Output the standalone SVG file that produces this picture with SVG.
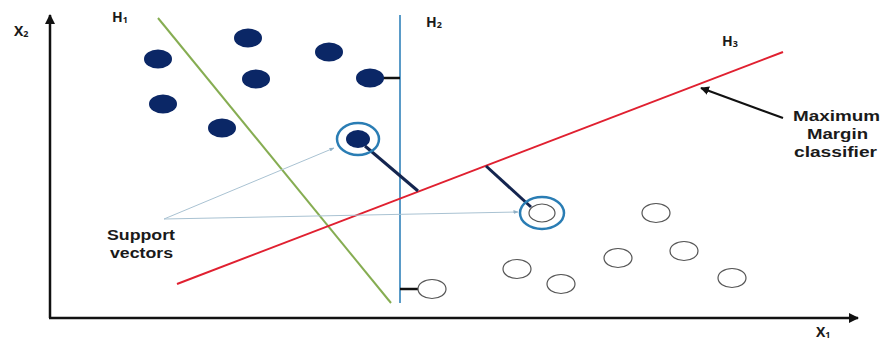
<svg xmlns="http://www.w3.org/2000/svg" width="883" height="340" viewBox="0 0 883 340">
<style>
  text { font-family: "Open Sans", "Liberation Sans", sans-serif; font-weight: bold; fill: #1a1a1a; }
  .lbl { font-size: 14px; }
  .big { font-family: "Liberation Sans", Arial, sans-serif; font-size: 14px; }
  .sub { font-size: 9px; }
  .pos { fill: #0b2766; stroke: none; }
  .neg { fill: #ffffff; stroke: #555555; stroke-width: 1.2; }
  .ring { fill: none; stroke: #2a7db4; stroke-width: 2.5; }
  .dist { stroke: #14254f; stroke-width: 3; }
  .tick { stroke: #111111; stroke-width: 2.5; }
  .pointer { stroke: #a9c2d2; stroke-width: 1; fill: none; }
</style>
<defs>
  <marker id="axisHead" viewBox="0 0 10 10" refX="9" refY="5" markerWidth="5" markerHeight="4" orient="auto" markerUnits="strokeWidth">
    <path d="M0,0 L10,5 L0,10 z" fill="#111111"/>
  </marker>
  <marker id="blackHead" viewBox="0 0 10 10" refX="9" refY="5" markerWidth="4" markerHeight="4" orient="auto" markerUnits="strokeWidth">
    <path d="M0,0 L10,5 L0,10 z" fill="#111111"/>
  </marker>
  <marker id="grayHead" viewBox="0 0 10 10" refX="9" refY="5" markerWidth="5" markerHeight="5" orient="auto" markerUnits="strokeWidth">
    <path d="M0,1 L10,5 L0,9 z" fill="#8fb0c6"/>
  </marker>
</defs>
<rect width="883" height="340" fill="#ffffff"/>

<g id="axes">
  <line x1="50" y1="318" x2="50" y2="15" stroke="#111111" stroke-width="2.5" marker-end="url(#axisHead)"/>
  <line x1="49" y1="318" x2="858" y2="318" stroke="#111111" stroke-width="2.5" marker-end="url(#axisHead)"/>
  <text class="lbl" x="14" y="36">X<tspan class="sub" dy="1">2</tspan></text>
  <text class="lbl" x="816" y="337">X<tspan class="sub" dy="1">1</tspan></text>
</g>

<g id="hyperplanes">
  <g id="H1">
    <line x1="158" y1="18" x2="391" y2="303" stroke="#86ad52" stroke-width="2"/>
    <text class="lbl" x="112" y="22">H<tspan class="sub" dy="1">1</tspan></text>
  </g>
  <g id="H2">
    <line x1="400" y1="15" x2="400" y2="303" stroke="#5a9bc8" stroke-width="2"/>
    <text class="lbl" x="426" y="27">H<tspan class="sub" dy="1">2</tspan></text>
  </g>
  <g id="H3">
    <line x1="177" y1="284" x2="783" y2="52" stroke="#e02030" stroke-width="2"/>
    <text class="lbl" x="722" y="46">H<tspan class="sub" dy="1">3</tspan></text>
  </g>
</g>

<g id="connectors">
  <line class="tick" x1="383" y1="78" x2="400" y2="78"/>
  <line class="tick" x1="400" y1="289" x2="418" y2="289"/>
  <line class="dist" x1="365" y1="146" x2="418" y2="191"/>
  <line class="dist" x1="486" y1="166" x2="531" y2="207"/>
  <line class="pointer" x1="164" y1="219" x2="334" y2="148" marker-end="url(#grayHead)"/>
  <line class="pointer" x1="164" y1="219" x2="518" y2="212" marker-end="url(#grayHead)"/>
  <line x1="783" y1="118" x2="701" y2="88" stroke="#111111" stroke-width="2.2" marker-end="url(#blackHead)"/>
</g>

<g id="class-positive">
  <ellipse class="pos" cx="158" cy="59" rx="14" ry="9.5"/>
  <ellipse class="pos" cx="248" cy="38" rx="14" ry="9.5"/>
  <ellipse class="pos" cx="256" cy="79" rx="14" ry="9.5"/>
  <ellipse class="pos" cx="163" cy="104" rx="14" ry="9.5"/>
  <ellipse class="pos" cx="222" cy="128" rx="14" ry="9.5"/>
  <ellipse class="pos" cx="329" cy="52" rx="14" ry="9.5"/>
  <ellipse class="pos" cx="370" cy="78" rx="14" ry="9.5"/>
</g>

<g id="support-vector-positive">
  <ellipse class="ring" cx="358" cy="139" rx="21" ry="16"/>
  <ellipse class="pos" cx="358" cy="139" rx="12" ry="9"/>
</g>

<g id="support-vector-negative">
  <ellipse class="ring" cx="542" cy="213" rx="22" ry="16"/>
  <ellipse class="neg" cx="542" cy="213" rx="13" ry="9" stroke="#8a6a60"/>
</g>

<g id="class-negative">
  <ellipse class="neg" cx="432" cy="289" rx="14" ry="9.5"/>
  <ellipse class="neg" cx="517" cy="269" rx="14" ry="9.5"/>
  <ellipse class="neg" cx="561" cy="284" rx="14" ry="9.5"/>
  <ellipse class="neg" cx="618" cy="258" rx="14" ry="9.5"/>
  <ellipse class="neg" cx="656" cy="213" rx="14" ry="9.5"/>
  <ellipse class="neg" cx="684" cy="251" rx="14" ry="9.5"/>
  <ellipse class="neg" cx="732" cy="278" rx="14" ry="9.5"/>
</g>

<g id="label-support-vectors">
  <text class="big" x="107" y="240" textLength="68" lengthAdjust="spacingAndGlyphs">Support</text>
  <text class="big" x="110" y="258" textLength="63" lengthAdjust="spacingAndGlyphs">vectors</text>
</g>

<g id="label-max-margin">
  <text class="big" x="793" y="121" textLength="87" lengthAdjust="spacingAndGlyphs">Maximum</text>
  <text class="big" x="807" y="139" textLength="61" lengthAdjust="spacingAndGlyphs">Margin</text>
  <text class="big" x="794" y="157" textLength="83" lengthAdjust="spacingAndGlyphs">classifier</text>
</g>
</svg>
